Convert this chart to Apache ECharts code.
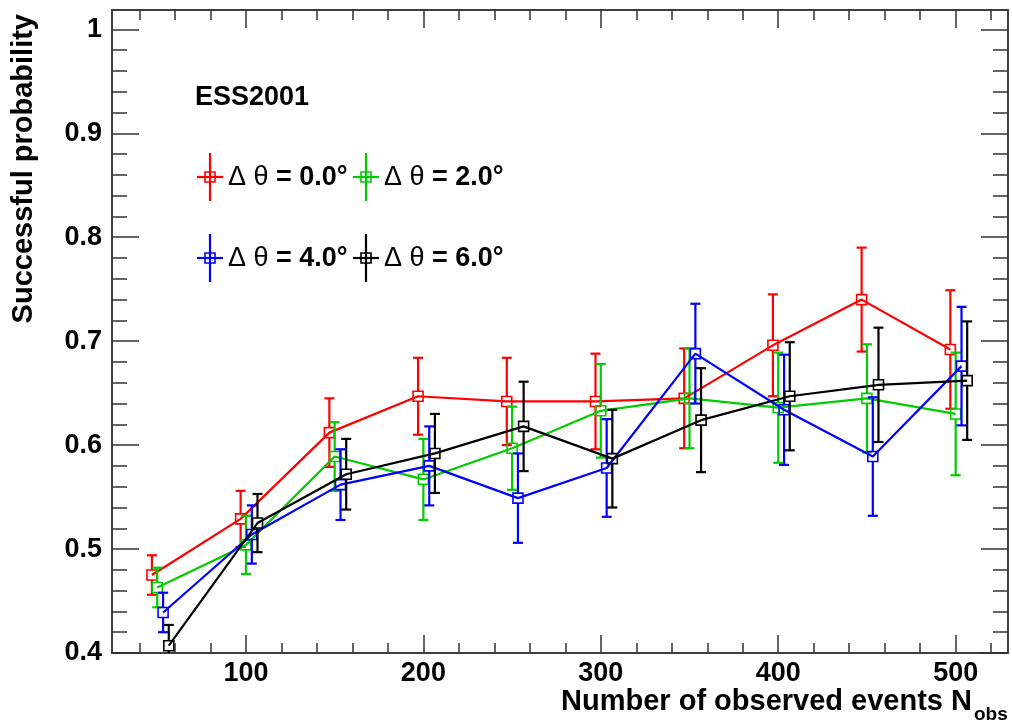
<!DOCTYPE html>
<html>
<head>
<meta charset="utf-8">
<script src="https://cdn.jsdelivr.net/npm/echarts@6/dist/echarts.min.js"></script>
<style>
html,body{margin:0;padding:0;background:#fff;}
#chart{width:1012px;height:727px;}
</style>
</head>
<body>
<div id="chart"></div>
<script>
// ---------- data ----------
const nObs = [50, 100, 150, 200, 250, 300, 350, 400, 450, 500];
const seriesNames = ['Δ θ = 0.0°', 'Δ θ = 2.0°', 'Δ θ = 4.0°', 'Δ θ = 6.0°'];
const xShift = [-3, 0, 3.3, 6.5];   // horizontal shift (in N units) used to separate the series
const probDT0 = [0.475, 0.529, 0.612, 0.647, 0.642, 0.642, 0.645, 0.696, 0.740, 0.692];
const errDT0  = [0.019, 0.027, 0.033, 0.037, 0.042, 0.046, 0.048, 0.049, 0.050, 0.057];
const probDT2 = [0.463, 0.504, 0.589, 0.567, 0.597, 0.633, 0.645, 0.636, 0.645, 0.630];
const errDT2  = [0.019, 0.028, 0.033, 0.039, 0.040, 0.045, 0.048, 0.053, 0.052, 0.059];
const probDT4 = [0.439, 0.514, 0.562, 0.580, 0.549, 0.578, 0.688, 0.634, 0.589, 0.676];
const errDT4  = [0.019, 0.028, 0.034, 0.038, 0.043, 0.047, 0.048, 0.053, 0.057, 0.057];
const probDT6 = [0.407, 0.525, 0.572, 0.592, 0.618, 0.587, 0.624, 0.647, 0.658, 0.662];
const errDT6  = [0.020, 0.028, 0.034, 0.038, 0.043, 0.047, 0.050, 0.052, 0.055, 0.057];
const xMajorTicks = [100, 200, 300, 400, 500];
const yMajorTicks = [0.4, 0.5, 0.6, 0.7, 0.8, 0.9, 1.0];
const annotation = 'ESS2001';
const xTitle = 'Number of observed events N';
const xTitleSub = 'obs';
const yTitle = 'Successful probability';

// ---------- styling ----------
const colors = ['#ff0000', '#00cc00', '#0000ff', '#000000'];
const probs = [probDT0, probDT2, probDT4, probDT6];
const errs = [errDT0, errDT2, errDT4, errDT6];
const FONT = '"Liberation Sans", Arial, Helvetica, sans-serif';
const frameColor = '#333';
const xMin = 24.5, xMax = 529.5, yMin = 0.4, yMax = 1.0186;

const xMinor = [];
for (let v = 40; v <= 520; v += 20) if (v % 100 !== 0) xMinor.push(v);
const yMinor = [];
for (let k = 21; k <= 50; k++) if (k % 5 !== 0) yMinor.push(k / 50);

const chart = echarts.init(document.getElementById('chart'), null, {renderer: 'canvas'});

function xAx(pos, values, len, labels) {
  return {
    type: 'value', min: xMin, max: xMax, position: pos, gridIndex: 0,
    axisLine: {show: true, lineStyle: {color: frameColor, width: 1.5}},
    axisTick: {show: true, inside: true, length: len, customValues: values,
               lineStyle: {color: frameColor, width: 1.5}},
    axisLabel: labels ? {show: true, customValues: values, margin: 7, color: '#000',
               fontSize: 27, fontWeight: 'bold', fontFamily: FONT} : {show: false},
    splitLine: {show: false}
  };
}
function yAx(pos, values, len, labels) {
  return {
    type: 'value', min: yMin, max: yMax, position: pos, gridIndex: 0,
    axisLine: {show: true, lineStyle: {color: frameColor, width: 1.5}},
    axisTick: {show: true, inside: true, length: len, customValues: values,
               lineStyle: {color: frameColor, width: 1.5}},
    axisLabel: labels ? {show: true, customValues: values, margin: 10, color: '#000',
               fontSize: 27, fontWeight: 'bold', fontFamily: FONT,
               formatter: v => (Math.abs(v - 1) < 1e-9 ? '1' : v.toFixed(1))} : {show: false},
    splitLine: {show: false}
  };
}

const series = [];
for (let s = 0; s < 4; s++) {
  const pts = nObs.map((n, i) => [n + xShift[s], probs[s][i], errs[s][i]]);
  series.push({
    type: 'line', name: seriesNames[s], xAxisIndex: 0, yAxisIndex: 0,
    data: pts.map(p => [p[0], p[1]]),
    symbol: 'none', clip: true, z: 2 + s,
    lineStyle: {color: colors[s], width: 2.2}
  });
  series.push({
    type: 'custom', name: seriesNames[s] + ' err', xAxisIndex: 0, yAxisIndex: 0,
    data: pts, clip: true, z: 2 + s,
    renderItem: (params, api) => {
      const x = api.value(0), y = api.value(1), e = api.value(2);
      const c = api.coord([x, y]);
      const t = api.coord([x, y + e]);
      const b = api.coord([x, y - e]);
      const h = 5, cap = 5;
      const st = {stroke: colors[s], lineWidth: 2.2, fill: null};
      return {type: 'group', children: [
        {type: 'line', shape: {x1: c[0], y1: t[1], x2: c[0], y2: c[1] - h}, style: st},
        {type: 'line', shape: {x1: c[0], y1: c[1] + h, x2: c[0], y2: b[1]}, style: st},
        {type: 'line', shape: {x1: c[0] - cap, y1: t[1], x2: c[0] + cap, y2: t[1]}, style: st},
        {type: 'line', shape: {x1: c[0] - cap, y1: b[1], x2: c[0] + cap, y2: b[1]}, style: st},
        {type: 'rect', shape: {x: c[0] - h, y: c[1] - h, width: 2 * h, height: 2 * h},
         style: {stroke: colors[s], lineWidth: 1.6, fill: null}}
      ]};
    }
  });
}

// legend drawn as graphic (two columns, ROOT style)
const legendPos = [[210, 177], [366, 177], [210, 258], [366, 258]];
const legendEls = [];
seriesNames.forEach((name, s) => {
  const [cx, cy] = legendPos[s];
  const st = {stroke: colors[s], lineWidth: 2.2};
  legendEls.push({type: 'line', shape: {x1: cx, y1: cy - 24, x2: cx, y2: cy + 24}, style: st});
  legendEls.push({type: 'line', shape: {x1: cx - 13, y1: cy, x2: cx + 13, y2: cy}, style: st});
  legendEls.push({type: 'rect', shape: {x: cx - 5, y: cy - 5, width: 10, height: 10},
                  style: {stroke: colors[s], lineWidth: 1.6, fill: null}});
  const parts = name.split('= ');
  legendEls.push({type: 'text', x: cx + 18, y: cy + 1, style: {
    text: '{g|' + parts[0] + '}{b|= ' + parts[1] + '}',
    verticalAlign: 'middle', align: 'left',
    rich: {
      g: {fontSize: 27, fontFamily: FONT, fontWeight: 'normal', fill: '#000'},
      b: {fontSize: 27, fontFamily: FONT, fontWeight: 'bold', fill: '#000'}
    }
  }});
});

const option = {
  animation: false,
  backgroundColor: '#fff',
  grid: {left: 112, right: 4, top: 10, bottom: 74, containLabel: false},
  xAxis: [
    xAx('bottom', xMajorTicks, 18, true),
    xAx('bottom', xMinor, 10, false),
    xAx('top', xMajorTicks, 18, false),
    xAx('top', xMinor, 10, false)
  ],
  yAxis: [
    yAx('left', yMajorTicks, 27, true),
    yAx('left', yMinor, 15, false),
    yAx('right', yMajorTicks, 27, false),
    yAx('right', yMinor, 15, false)
  ],
  series: series,
  graphic: [
    {type: 'text', x: 195, y: 98, style: {text: annotation, fontSize: 27, fontWeight: 'bold',
      fontFamily: FONT, fill: '#000', verticalAlign: 'middle', align: 'left'}},
    ...legendEls,
    {type: 'text', x: 972, y: 716, style: {text: xTitle, fontSize: 29, fontWeight: 'bold',
      fontFamily: FONT, fill: '#000', align: 'right', verticalAlign: 'bottom'}},
    {type: 'text', x: 974, y: 724, style: {text: xTitleSub, fontSize: 19, fontWeight: 'bold',
      fontFamily: FONT, fill: '#000', align: 'left', verticalAlign: 'bottom'}},
    {type: 'text', x: 9, y: 14, rotation: Math.PI / 2, style: {text: yTitle, fontSize: 29,
      fontWeight: 'bold', fontFamily: FONT, fill: '#000', align: 'right', verticalAlign: 'top'}}
  ]
};
chart.setOption(option);
</script>
</body>
</html>
